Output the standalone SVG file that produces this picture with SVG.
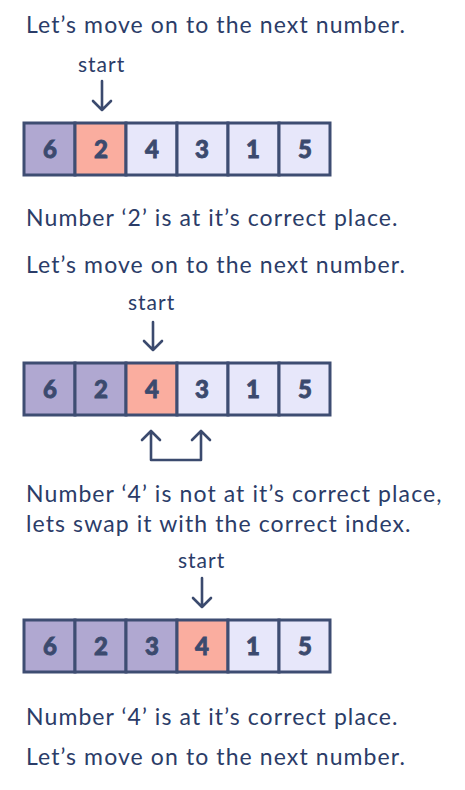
<svg xmlns="http://www.w3.org/2000/svg" width="465" height="790" viewBox="0 0 465 790">
<defs>
<style>
.t{font-family:Lato,"Noto Sans",sans-serif;font-size:23px;letter-spacing:1.1px;fill:#2B3C68}
.s{font-family:Lato,"Noto Sans",sans-serif;font-size:21px;letter-spacing:1px;fill:#2B3C68}
.n{font-family:Lato,"Noto Sans",sans-serif;font-size:24px;font-weight:900;fill:#3B4A6E;stroke:#3B4A6E;stroke-width:0.8;text-anchor:middle}
.c{stroke:#3E4D72;stroke-width:3}
.p{fill:#B0A8D1}
.r{fill:#FAAD9F}
.l{fill:#E7E7FA}
.a{fill:none;stroke:#3B4A6E;stroke-width:2.6;stroke-linecap:round;stroke-linejoin:round}
</style>
</defs>
<rect width="465" height="790" fill="#FFFFFF"/>
<g id="texts">
<text class="t" x="26" y="33">Let’s move on to the next number.</text>
<text class="s" x="78" y="72">start</text>
<text class="t" x="26" y="226">Number ‘2’ is at it’s correct place.</text>
<text class="t" x="26" y="273">Let’s move on to the next number.</text>
<text class="s" x="128" y="310">start</text>
<text class="t" x="26" y="502">Number ‘4’ is not at it’s correct place,</text>
<text class="t" x="26" y="532">lets swap it with the correct index.</text>
<text class="s" x="178" y="568">start</text>
<text class="t" x="26" y="725">Number ‘4’ is at it’s correct place.</text>
<text class="t" x="26" y="765">Let’s move on to the next number.</text>
</g>
<g id="array1">
<rect class="c p" x="24" y="123" width="51" height="52"/>
<rect class="c r" x="75" y="123" width="51" height="52"/>
<rect class="c l" x="126" y="123" width="51" height="52"/>
<rect class="c l" x="177" y="123" width="51" height="52"/>
<rect class="c l" x="228" y="123" width="51" height="52"/>
<rect class="c l" x="279" y="123" width="51" height="52"/>
<text class="n" x="50" y="158">6</text>
<text class="n" x="101" y="158">2</text>
<text class="n" x="152" y="158">4</text>
<text class="n" x="202" y="158">3</text>
<text class="n" x="253" y="158">1</text>
<text class="n" x="305" y="158">5</text>
</g>
<g id="array2">
<rect class="c p" x="24" y="363" width="51" height="52"/>
<rect class="c p" x="75" y="363" width="51" height="52"/>
<rect class="c r" x="126" y="363" width="51" height="52"/>
<rect class="c l" x="177" y="363" width="51" height="52"/>
<rect class="c l" x="228" y="363" width="51" height="52"/>
<rect class="c l" x="279" y="363" width="51" height="52"/>
<text class="n" x="50" y="398">6</text>
<text class="n" x="101" y="398">2</text>
<text class="n" x="152" y="398">4</text>
<text class="n" x="202" y="398">3</text>
<text class="n" x="253" y="398">1</text>
<text class="n" x="305" y="398">5</text>
</g>
<g id="array3">
<rect class="c p" x="24" y="620" width="51" height="52"/>
<rect class="c p" x="75" y="620" width="51" height="52"/>
<rect class="c p" x="126" y="620" width="51" height="52"/>
<rect class="c r" x="177" y="620" width="51" height="52"/>
<rect class="c l" x="228" y="620" width="51" height="52"/>
<rect class="c l" x="279" y="620" width="51" height="52"/>
<text class="n" x="50" y="655">6</text>
<text class="n" x="101" y="655">2</text>
<text class="n" x="152" y="655">3</text>
<text class="n" x="202" y="655">4</text>
<text class="n" x="253" y="655">1</text>
<text class="n" x="305" y="655">5</text>
</g>
<g id="connectors">
<path class="a" d="M102 81V110M93 101L102 110L111 101"/>
<path class="a" d="M153 322V350M144 341L153 350L162 341"/>
<path class="a" d="M202 578V607M193 598L202 607L211 598"/>
<path class="a" d="M151 431V460H201V431M142 440L151 431L160 440M192 440L201 431L210 440"/>
</g>
</svg>
